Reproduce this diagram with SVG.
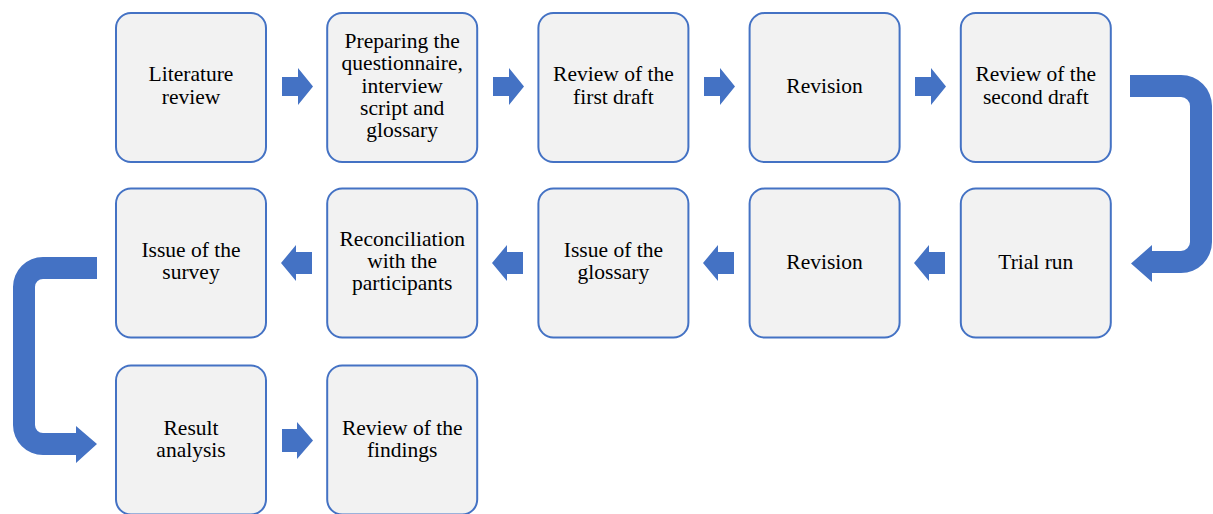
<svg xmlns="http://www.w3.org/2000/svg" width="1213" height="514" viewBox="0 0 1213 514">
<style>
.box{fill:#f2f2f2;stroke:#4472c4;stroke-width:2}
.arr{fill:#4472c4}
text{font-family:"Liberation Serif","Times New Roman",serif;font-size:21.5px;fill:#000;text-anchor:middle}
</style>
<rect width="1213" height="514" fill="#fff"/>
<g id="connectors">
<path class="arr" d="M282,77 H298 V68 L313,86.5 L298,105 V96 H282 Z"/>
<path class="arr" d="M493,77 H509 V68 L524,86.5 L509,105 V96 H493 Z"/>
<path class="arr" d="M704,77 H720 V68 L735,86.5 L720,105 V96 H704 Z"/>
<path class="arr" d="M915,77 H931 V68 L946,86.5 L931,105 V96 H915 Z"/>
<path class="arr" d="M1130,75 H1181 A31,31 0 0 1 1212,106 V242 A31,31 0 0 1 1181,273 H1152 V282 L1131,263.5 L1152,245 V251 H1181 A9,9 0 0 0 1190,242 V106 A9,9 0 0 0 1181,97 H1130 Z"/>
<path class="arr" d="M945,252 H929 V245 L914,263 L929,281 V274 H945 Z"/>
<path class="arr" d="M734,252 H718 V245 L703,263 L718,281 V274 H734 Z"/>
<path class="arr" d="M523,252 H507 V245 L492,263 L507,281 V274 H523 Z"/>
<path class="arr" d="M312,252 H296 V245 L281,263 L296,281 V274 H312 Z"/>
<path class="arr" d="M97,257 H43 A30,30 0 0 0 13,287 V425 A30,30 0 0 0 43,455 H76 V463 L97,444 L76,426 V433 H43 A8,8 0 0 1 35,425 V287 A8,8 0 0 1 43,279 H97 Z"/>
<path class="arr" d="M282,429 H297 V422 L313,440.5 L297,459 V452 H282 Z"/>
</g>
<g id="n1"><rect class="box" x="116" y="13" width="150" height="149" rx="15"/><text x="191" y="81.3">Literature</text><text x="191" y="103.7">review</text></g>
<g id="n2"><rect class="box" x="327.2" y="13" width="150" height="149" rx="15"/><text x="402.2" y="47.7">Preparing the</text><text x="402.2" y="70.1">questionnaire,</text><text x="402.2" y="92.5">interview</text><text x="402.2" y="114.9">script and</text><text x="402.2" y="137.3">glossary</text></g>
<g id="n3"><rect class="box" x="538.4" y="13" width="150" height="149" rx="15"/><text x="613.4" y="81.3">Review of the</text><text x="613.4" y="103.7">first draft</text></g>
<g id="n4"><rect class="box" x="749.6" y="13" width="150" height="149" rx="15"/><text x="824.6" y="93">Revision</text></g>
<g id="n5"><rect class="box" x="960.8" y="13" width="150" height="149" rx="15"/><text x="1035.8" y="81.3">Review of the</text><text x="1035.8" y="103.7">second draft</text></g>
<g id="n6"><rect class="box" x="960.8" y="188.5" width="150" height="149" rx="15"/><text x="1035.8" y="269">Trial run</text></g>
<g id="n7"><rect class="box" x="749.6" y="188.5" width="150" height="149" rx="15"/><text x="824.6" y="269">Revision</text></g>
<g id="n8"><rect class="box" x="538.4" y="188.5" width="150" height="149" rx="15"/><text x="613.4" y="256.8">Issue of the</text><text x="613.4" y="279.2">glossary</text></g>
<g id="n9"><rect class="box" x="327.2" y="188.5" width="150" height="149" rx="15"/><text x="402.2" y="245.6">Reconciliation</text><text x="402.2" y="268">with the</text><text x="402.2" y="290.4">participants</text></g>
<g id="n10"><rect class="box" x="116" y="188.5" width="150" height="149" rx="15"/><text x="191" y="256.8">Issue of the</text><text x="191" y="279.2">survey</text></g>
<g id="n11"><rect class="box" x="116" y="365.5" width="150" height="149" rx="15"/><text x="191" y="435">Result</text><text x="191" y="457.4">analysis</text></g>
<g id="n12"><rect class="box" x="327.2" y="365.5" width="150" height="149" rx="15"/><text x="402.2" y="435">Review of the</text><text x="402.2" y="457.4">findings</text></g>
</svg>
